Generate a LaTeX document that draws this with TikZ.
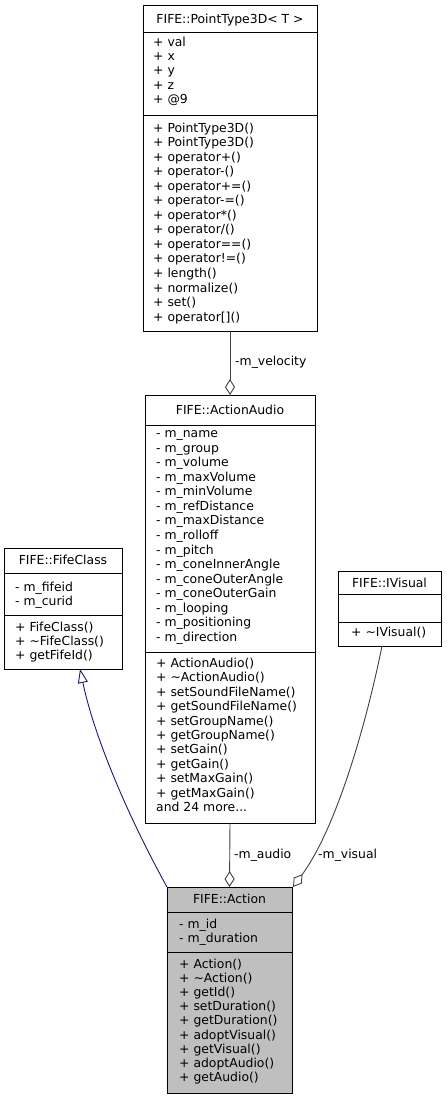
\documentclass[tikz,border=0pt]{standalone}
\usepackage{fontspec}
\setmainfont{DejaVu Sans}
\usetikzlibrary{arrows.meta,calc}
\definecolor{edgegray}{HTML}{404040}
\definecolor{inhblue}{HTML}{191970}
\definecolor{actfill}{HTML}{BFBFBF}
\newcommand{\umlfont}{\fontsize{12.4}{14.4}\selectfont}
\tikzset{
  cls/.style={draw=black, line width=0.9pt, anchor=north west, inner sep=0pt, outer sep=0pt},
  txt/.style={anchor=base west, inner sep=0pt, font=\umlfont},
  ttl/.style={anchor=base, inner sep=0pt, font=\umlfont},
  divider/.style={line width=0.9pt},
  assoc/.style={draw=edgegray, line width=0.9pt, -{Diamond[open,length=16pt,width=10pt,line width=0.9pt]}},
  inherit/.style={draw=inhblue, line width=0.9pt, -{Triangle[open,length=14pt,width=10pt,line width=0.9pt]}},
  lbl/.style={anchor=west, inner sep=0pt, font=\umlfont}
}
\begin{document}
\begin{tikzpicture}[x=1pt,y=-1pt]
\useasboundingbox (0,0) rectangle (447,1101);

% ---------- FIFE::PointType3D< T > ----------
\node[cls, minimum width=174pt, minimum height=326pt] (pt) at (143,5) {};
\draw[divider] ($(pt.north west)+(0,27)$) -- ($(pt.north east)+(0,27)$);
\draw[divider] ($(pt.north west)+(0,110)$) -- ($(pt.north east)+(0,110)$);
\node[ttl] (pttitle) at ($(pt.north)+(0,18)$) {FIFE::PointType3D< T >};
\foreach \t [count=\i from 0] in {+ val,+ x,+ y,+ z,+ @9}
  \node[txt] (pta\i) at (153,46+\i*14.4) {\t};
\foreach \t [count=\i from 0] in {+ PointType3D(),+ PointType3D(),+ operator+(),+ operator-(),+ operator+=(),+ operator-=(),+ operator*(),+ operator/(),+ operator==(),+ operator!=(),+ length(),+ normalize(),+ set(),+ operator[]()}
  \node[txt] (ptm\i) at (153,132+\i*14.55) {\t};

% ---------- FIFE::ActionAudio ----------
\node[cls, minimum width=170pt, minimum height=428pt] (aa) at (145,395) {};
\draw[divider] ($(aa.north west)+(0,30)$) -- ($(aa.north east)+(0,30)$);
\draw[divider] ($(aa.north west)+(0,257)$) -- ($(aa.north east)+(0,257)$);
\node[ttl] (aatitle) at ($(aa.north)+(0,19.5)$) {FIFE::ActionAudio};
\foreach \t [count=\i from 0] in {- m\_name,- m\_group,- m\_volume,- m\_maxVolume,- m\_minVolume,- m\_refDistance,- m\_maxDistance,- m\_rolloff,- m\_pitch,- m\_coneInnerAngle,- m\_coneOuterAngle,- m\_coneOuterGain,- m\_looping,- m\_positioning,- m\_direction}
  \node[txt] (aaa\i) at (156,437.5+\i*14.57) {\t};
\foreach \t [count=\i from 0] in {+ ActionAudio(),+ \textasciitilde ActionAudio(),+ setSoundFileName(),+ getSoundFileName(),+ setGroupName(),+ getGroupName(),+ setGain(),+ getGain(),+ setMaxGain(),+ getMaxGain()}
  \node[txt] (aam\i) at (156,667.5+\i*14.4) {\t};
\node[txt] (aamore) at (156,667.5+10*14.4) {and 24 more...};

% ---------- FIFE::FifeClass ----------
\node[cls, minimum width=118pt, minimum height=121pt] (fc) at (4,548) {};
\draw[divider] ($(fc.north west)+(0,25)$) -- ($(fc.north east)+(0,25)$);
\draw[divider] ($(fc.north west)+(0,67)$) -- ($(fc.north east)+(0,67)$);
\node[ttl] (fctitle) at ($(fc.north)+(0,16.5)$) {FIFE::FifeClass};
\foreach \t [count=\i from 0] in {- m\_fifeid,- m\_curid}
  \node[txt] (fca\i) at (15,591.5+\i*14) {\t};
\foreach \t [count=\i from 0] in {+ FifeClass(),+ \textasciitilde FifeClass(),+ getFifeId()}
  \node[txt] (fcm\i) at (15,631.5+\i*14) {\t};

% ---------- FIFE::IVisual ----------
\node[cls, minimum width=103pt, minimum height=75pt] (iv) at (338,571) {};
\draw[divider] ($(iv.north west)+(0,23)$) -- ($(iv.north east)+(0,23)$);
\draw[divider] ($(iv.north west)+(0,51)$) -- ($(iv.north east)+(0,51)$);
\node[ttl] (ivtitle) at ($(iv.north)+(0,16)$) {FIFE::IVisual};
\node[txt] (ivm0) at (351,636.5) {+ \textasciitilde IVisual()};

% ---------- FIFE::Action ----------
\node[cls, fill=actfill, minimum width=125pt, minimum height=206pt] (ac) at (167,887) {};
\draw[divider] ($(ac.north west)+(0,25)$) -- ($(ac.north east)+(0,25)$);
\draw[divider] ($(ac.north west)+(0,65)$) -- ($(ac.north east)+(0,65)$);
\node[ttl] (actitle) at ($(ac.north)+(0,16)$) {FIFE::Action};
\foreach \t [count=\i from 0] in {- m\_id,- m\_duration}
  \node[txt] (aca\i) at (179,928.5+\i*14) {\t};
\foreach \t [count=\i from 0] in {+ Action(),+ \textasciitilde Action(),+ getId(),+ setDuration(),+ getDuration(),+ adoptVisual(),+ getVisual(),+ adoptAudio(),+ getAudio()}
  \node[txt] (acm\i) at (179,968.5+\i*14.1) {\t};

% ---------- connectors ----------
\draw[assoc] (pt.south) -- (aa.north);
\node[lbl] (lvel) at (235,362) {-m\_velocity};

\draw[assoc] (aa.south) -- (ac.north);
\node[lbl] (laud) at (234,855) {-m\_audio};

\coordinate (ivstart) at ($(iv.south)+(-7.5,0)$);
\coordinate (acne) at ($(ac.north east)+(1,0)$);
\draw[assoc] (ivstart) .. controls (365,730) and (335,830) .. (acne);
\node[lbl] (lvis) at (318,855) {-m\_visual};

\coordinate (fcend) at ($(fc.south)+(17,0)$);
\draw[inherit] (ac.north west) .. controls (130,820) and (95,740) .. (fcend);
\end{tikzpicture}
\end{document}
